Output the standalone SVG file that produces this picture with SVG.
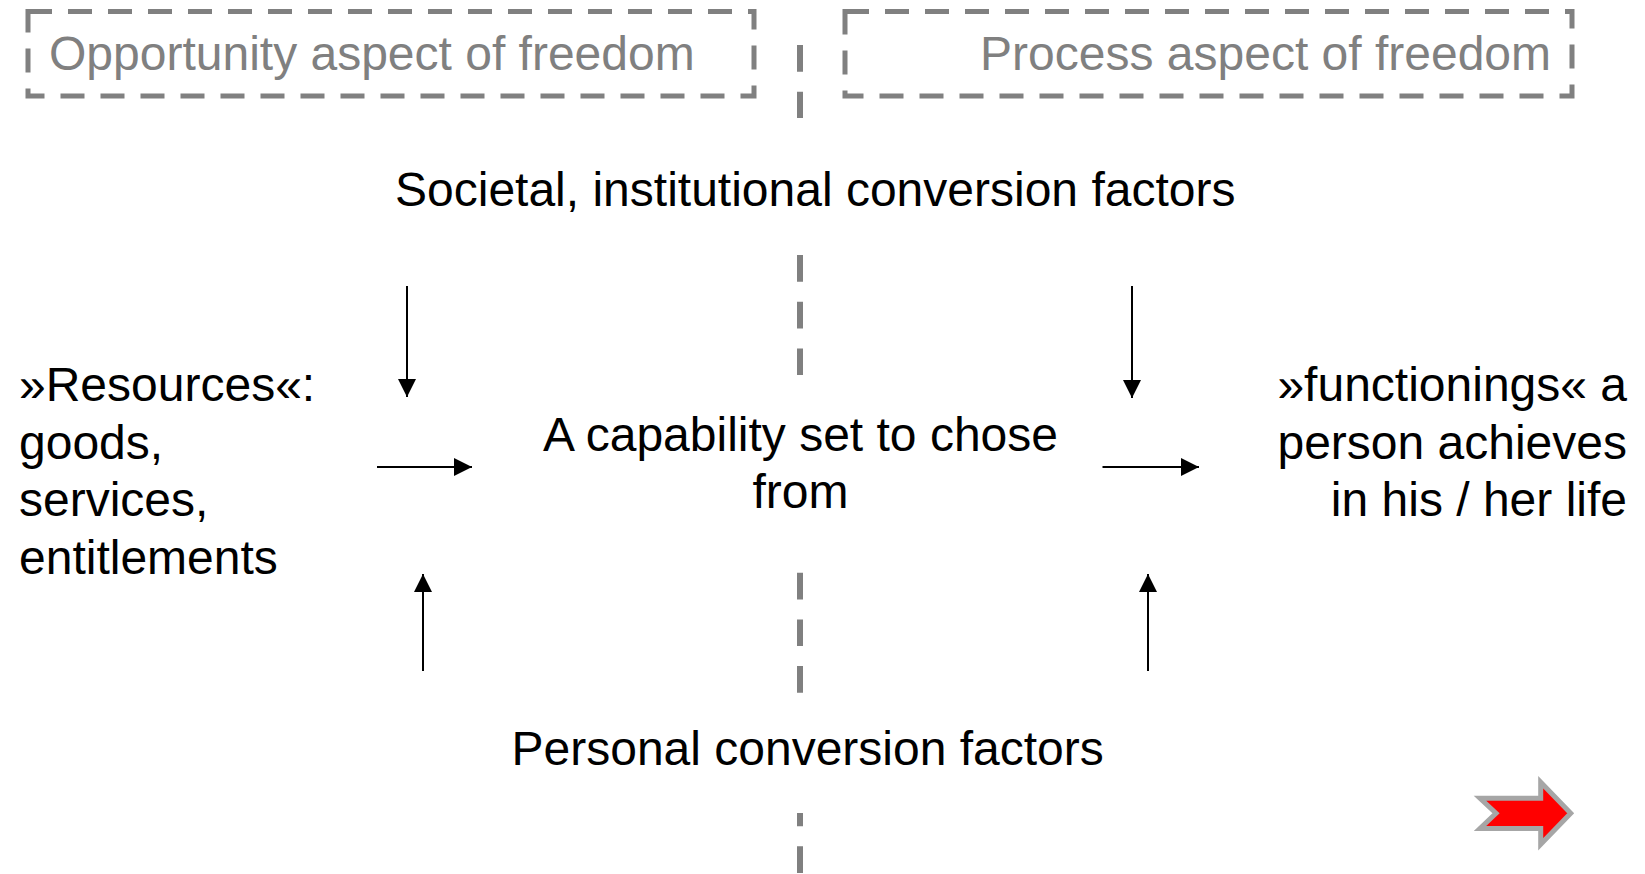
<svg xmlns="http://www.w3.org/2000/svg" width="1645" height="874" viewBox="0 0 1645 874">
<style>
text{font-family:"Liberation Sans",Arial,sans-serif;font-size:48px;fill:#000}
.gt{fill:#808080}
.box{fill:none;stroke:#808080;stroke-width:5;stroke-dasharray:24 16}
.cl{stroke:#808080;stroke-width:6;stroke-dasharray:26.7 20;fill:none}
.ar{stroke:#000;stroke-width:2;fill:none;marker-end:url(#ah)}
</style>
<defs>
<marker id="ah" markerUnits="userSpaceOnUse" markerWidth="18" markerHeight="18" viewBox="0 0 16 16" refX="16" refY="8" orient="auto">
<path d="M0,0 L16,8 L0,16 Z" fill="#000"/>
</marker>
</defs>
<rect width="1645" height="874" fill="#fff"/>
<g id="centerline">
<line class="cl" x1="800" y1="45" x2="800" y2="118"/>
<line class="cl" x1="800" y1="255" x2="800" y2="375"/>
<line class="cl" x1="800" y1="572.7" x2="800" y2="693"/>
<line class="cl" x1="800" y1="813" x2="800" y2="874" stroke-dashoffset="13.4"/>
</g>
<g id="opportunity">
<rect class="box" x="28" y="11.5" width="726" height="84.5"/>
<text class="gt" x="49" y="70">Opportunity aspect of freedom</text>
</g>
<g id="process">
<rect class="box" x="845" y="11.5" width="727" height="84.5"/>
<text class="gt" x="1551" y="70" text-anchor="end">Process aspect of freedom</text>
</g>
<g id="societal">
<text x="395" y="206">Societal, institutional conversion factors</text>
</g>
<g id="resources">
<text x="19" y="401">»Resources«:</text>
<text x="19" y="458.5">goods,</text>
<text x="19" y="516">services,</text>
<text x="19" y="573.5">entitlements</text>
</g>
<g id="capability">
<text x="800.5" y="451" text-anchor="middle">A capability set to chose</text>
<text x="800.5" y="508" text-anchor="middle">from</text>
</g>
<g id="functionings">
<text x="1627" y="401" text-anchor="end">»functionings« a</text>
<text x="1627" y="458.5" text-anchor="end">person achieves</text>
<text x="1627" y="516" text-anchor="end">in his / her life</text>
</g>
<g id="personal">
<text x="511.5" y="765">Personal conversion factors</text>
</g>
<g id="connectors">
<line class="ar" x1="407" y1="286" x2="407" y2="397"/>
<line class="ar" x1="1132" y1="286" x2="1132" y2="398"/>
<line class="ar" x1="377" y1="467" x2="472" y2="467"/>
<line class="ar" x1="1102.5" y1="467" x2="1199" y2="467"/>
<line class="ar" x1="423" y1="671" x2="423" y2="574"/>
<line class="ar" x1="1148" y1="671" x2="1148" y2="574"/>
</g>
<g id="nextarrow">
<polygon points="1480,798.3 1540.7,798.3 1540.7,782.3 1570.7,813.3 1540.7,844.3 1540.7,828.5 1480,828.5 1496,813.3" fill="#ff0000" stroke="#a6a6a6" stroke-width="5"/>
</g>
</svg>
